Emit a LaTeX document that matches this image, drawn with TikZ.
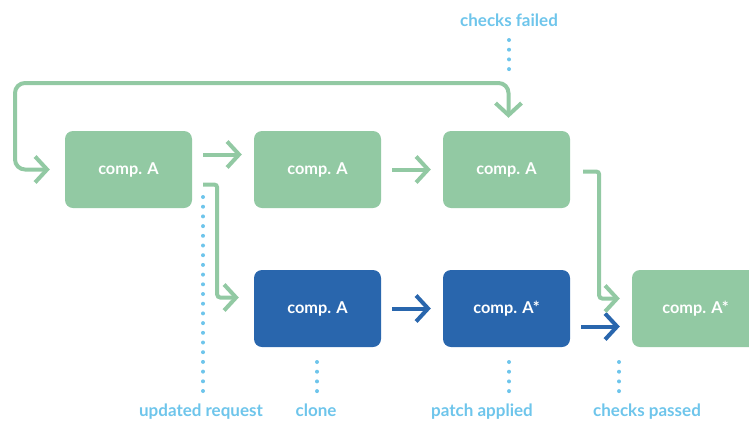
\documentclass[tikz,border=0pt]{standalone}
\usepackage{fontspec}
\setmainfont{Lato}
\usetikzlibrary{arrows.meta,positioning}
\definecolor{boxgreen}{HTML}{92C9A3}
\definecolor{boxblue}{HTML}{2966AD}
\definecolor{dotblue}{HTML}{6EC5EB}

\begin{document}
\begin{tikzpicture}[x=1pt,y=-1pt,
	comp/.style={rectangle,rounded corners=8pt,minimum width=127pt,minimum height=77pt,inner sep=0pt,text=white,font=\fontsize{16.3}{18}\selectfont\bfseries},
	greenbox/.style={comp,fill=boxgreen},
	bluebox/.style={comp,fill=boxblue},
	barb/.tip={Straight Barb[length=12pt,width=26pt]},
	flow/.style={line width=4pt,-barb},
	dots/.style={dotblue,line width=4pt,line cap=round,dash pattern=on 0pt off 9.7pt},
	tag/.style={text=dotblue,font=\fontsize{17}{19}\selectfont\bfseries,anchor=base}]
	\useasboundingbox (0,0) rectangle (749,421);
	\clip (0,0) rectangle (749,421);

	\node[greenbox] (a1) at (128.5,169.5) {comp. A};
	\node[greenbox] (a2) at (317.5,169.5) {comp. A};
	\node[greenbox] (a3) at (506.5,169.5) {comp. A};
	\node[bluebox] (b1) at (317.5,308.5) {comp. A};
	\node[bluebox] (b2) at (506.5,308.5) {comp. A*};
	\node[greenbox] (a4) at (695.5,308.5) {comp. A*};

	\node[tag] (failed) at (509,26) {checks failed};
	\node[tag] (request) at (201,416) {updated request};
	\node[tag] (clone) at (316,416) {clone};
	\node[tag] (patch) at (482,416) {patch applied};
	\node[tag] (passed) at (647,416) {checks passed};

	\coordinate (failed dots) at (509,40);
	\coordinate (request dots) at (203,197);
	\coordinate (clone dots) at (317,362);
	\coordinate (patch dots) at (509,362);
	\coordinate (passed dots) at (619,362);

	\draw[dots] (failed dots) -- ++(0,29.5);
	\draw[dots] (request dots) -- ++(0,194.5);
	\draw[dots] (clone dots) -- ++(0,29.5);
	\draw[dots] (patch dots) -- ++(0,29.5);
	\draw[dots] (passed dots) -- ++(0,29.5);

	\draw[flow,boxgreen] ([xshift=11pt,yshift=15pt]a1.east) -- ([xshift=-12pt,yshift=15pt]a2.west);
	\draw[flow,boxgreen] ([xshift=11pt]a2.east) -- ([xshift=-12pt]a3.west);
	\draw[flow,boxblue] ([xshift=11pt]b1.east) -- ([xshift=-12pt]b2.west);
	\draw[flow,boxblue] ([xshift=11pt,yshift=-18pt]b2.east) -- ([xshift=-12pt,yshift=-18pt]a4.west);
	\draw[flow,boxgreen,rounded corners=3pt] ([xshift=11pt,yshift=-15pt]a1.east) -- ++(14,0) |- ([xshift=-15pt,yshift=11pt]b1.west);
	\draw[flow,boxgreen,rounded corners=3pt] ([xshift=13pt,yshift=-2pt]a3.east) -- ++(16,0) |- ([xshift=-12pt,yshift=10pt]a4.west);
	\draw[flow,boxgreen,rounded corners=10pt,barb-barb] ([xshift=-15pt]a1.west) -| (15,83) -| ([xshift=2pt,yshift=13pt]a3.north);
\end{tikzpicture}
\end{document}
